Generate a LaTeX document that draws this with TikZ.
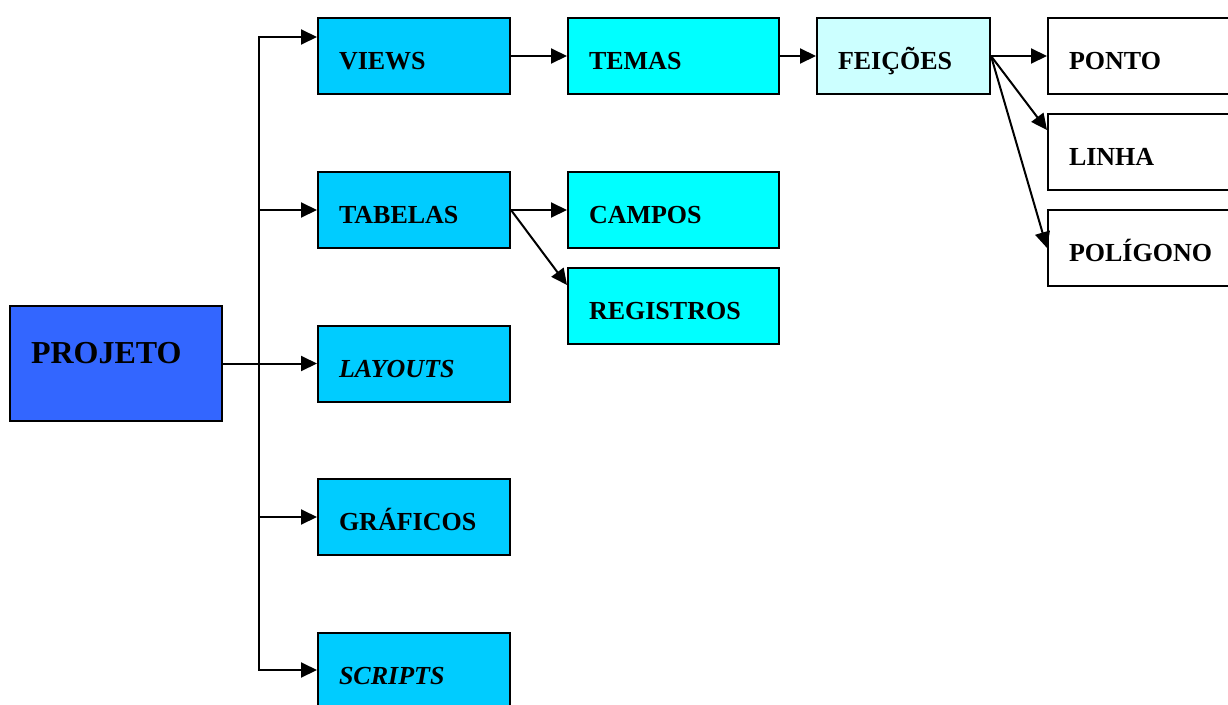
\documentclass[tikz,border=0pt]{standalone}
\usepackage{fontspec}
\setmainfont{Liberation Serif}
\usetikzlibrary{arrows.meta,calc}
\definecolor{cproj}{HTML}{3366FF}
\definecolor{cblue}{HTML}{00CCFF}
\definecolor{ccyan}{HTML}{00FFFF}
\definecolor{clight}{HTML}{CCFFFF}
\tikzset{
  box/.style={draw=black, line width=2pt, anchor=north west, inner xsep=21pt, inner ysep=0pt,
    align=left, minimum height=76pt, text height=26pt, text depth=0pt,
    font=\bfseries\fontsize{26}{26}\selectfont},
  wA/.style={text width=150pt},
  wB/.style={text width=169pt},
  wC/.style={text width=131pt},
  wD/.style={text width=200pt},
  arr/.style={line width=2pt, -{Triangle[length=16pt,width=15pt]}},
  ln/.style={line width=2pt}
}
\begin{document}
\begin{tikzpicture}[x=1pt,y=-1pt]
\clip (0,0) rectangle (1228,704);
\fill[white] (0,0) rectangle (1228,704);
% root
\node[box, fill=cproj, text width=170pt, minimum height=115pt, text height=10pt, text depth=10pt,
  font=\bfseries\fontsize{32}{32}\selectfont] (projeto) at (9,305) {PROJETO};
% level 1
\node[box, wA, fill=cblue] (views) at (317,17) {VIEWS};
\node[box, wA, fill=cblue] (tabelas) at (317,171) {TABELAS};
\node[box, wA, fill=cblue] (layouts) at (317,325) {\itshape LAYOUTS};
\node[box, wA, fill=cblue] (graficos) at (317,478) {GRÁFICOS};
\node[box, wA, fill=cblue] (scripts) at (317,632) {\itshape SCRIPTS};
% level 2
\node[box, wB, fill=ccyan] (temas) at (567,17) {TEMAS};
\node[box, wB, fill=ccyan] (campos) at (567,171) {CAMPOS};
\node[box, wB, fill=ccyan] (registros) at (567,267) {REGISTROS};
% level 3
\node[box, wC, fill=clight] (feicoes) at (816,17) {FEIÇÕES};
% level 4
\node[box, wD, fill=white] (ponto) at (1047,17) {PONTO};
\node[box, wD, fill=white] (linha) at (1047,113) {LINHA};
\node[box, wD, fill=white] (poligono) at (1047,209) {POLÍGONO};
% trunk
\coordinate (tm) at (259,363);
\coordinate (t1) at (259,37);
\coordinate (t5) at (259,670);
\draw[arr] (tm) |- (views.west |- t1);
\draw[arr] (tm) |- (scripts.west |- t5);
\draw[arr] (tm |- tabelas.west) -- (tabelas.west);
\draw[arr] (projeto.east) -- (layouts.west |- projeto.east);
\draw[arr] (tm |- graficos.west) -- (graficos.west);
% other connectors
\draw[arr] (views.east) -- (temas.west);
\draw[arr] (temas.east) -- (feicoes.west);
\draw[arr] (feicoes.east) -- (ponto.west);
\draw[arr] (feicoes.east) -- ($(linha.north west)+(0,17)$);
\draw[arr] (feicoes.east) -- (poligono.west);
\draw[arr] (tabelas.east) -- (campos.west);
\draw[arr] (tabelas.east) -- ($(registros.north west)+(0,18)$);
\end{tikzpicture}
\end{document}
